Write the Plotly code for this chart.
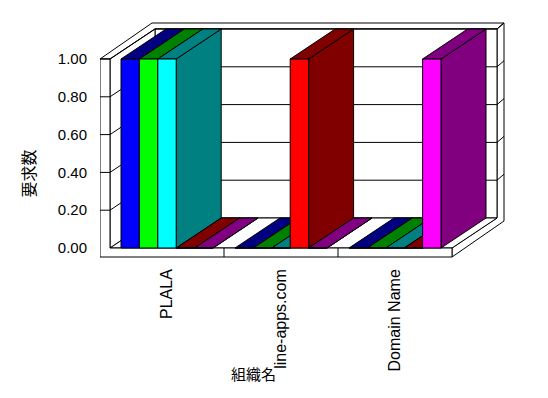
import plotly.graph_objects as go

# ---------------- data ----------------
categories = ["PLALA", "line-apps.com", "Domain Name"]
series_1 = [1.0, 0.0, 0.0]
series_2 = [1.0, 0.0, 0.0]
series_3 = [1.0, 0.0, 0.0]
series_4 = [0.0, 1.0, 0.0]
series_5 = [0.0, 0.0, 1.0]
y_ticks = [0.0, 0.2, 0.4, 0.6, 0.8, 1.0]
y_tick_labels = ["0.00", "0.20", "0.40", "0.60", "0.80", "1.00"]
x_title = "組織名"
y_title = "要求数"

all_series = [series_1, series_2, series_3, series_4, series_5]

# ---------------- styles ----------------
front_colors = ["#0000FF", "#00FF00", "#00FFFF", "#FF0000", "#FF00FF"]
dark_colors = ["#000080", "#008000", "#008080", "#800000", "#800080"]

OFF = 8                                  # page body margin
W, H = 548 - OFF, 398 - OFF
PL, PR, PT, PB = 100 - OFF, 505 - OFF, 22 - OFF, 258 - OFF   # plot area (px)
FX0, FY0 = 110 - OFF, 248 - OFF          # pixel of (first slot left edge, value 0)
PX_PER_X = 114.0                         # pixels per category slot
PX_PER_Y = 189.0                         # pixels per value unit

x_range = [-0.5 - (FX0 - PL) / PX_PER_X, -0.5 + (PR - FX0) / PX_PER_X]
y_range = [-(PB - FY0) / PX_PER_Y, (FY0 - PT) / PX_PER_Y]

DX, DY = 45 / PX_PER_X, 30 / PX_PER_Y    # depth offset
TX, TY = 7 / PX_PER_X, 6 / PX_PER_Y      # back-wall thickness
LW = 10 / PX_PER_X                       # left-wall thickness
FT = 9 / PX_PER_Y                        # floor thickness
GROUP = 92 / PX_PER_X                    # width of a bar group within a slot

X0 = -0.5
X1 = len(categories) - 0.5
XL = X0 - LW
VMAX = max(y_ticks)

fig = go.Figure()


def P(u, v, w=0.0, t=0.0):
    return (u + w * DX + t * TX, v + w * DY + t * TY)


def poly(pts, fill):
    xs = [p[0] for p in pts] + [pts[0][0]]
    ys = [p[1] for p in pts] + [pts[0][1]]
    fig.add_trace(go.Scatter(x=xs, y=ys, mode="lines", fill="toself",
                             fillcolor=fill, line=dict(color="black", width=1),
                             hoverinfo="skip", showlegend=False))


def polyline(pts):
    fig.add_trace(go.Scatter(x=[p[0] for p in pts], y=[p[1] for p in pts],
                             mode="lines", line=dict(color="black", width=1),
                             hoverinfo="skip", showlegend=False))


# ---- box frame ----
poly([P(XL, VMAX, 0), P(X0, VMAX, 0), P(X0, VMAX, 1), P(X1, VMAX, 1),
      P(X1, VMAX, 1, 1), P(XL, VMAX, 1, 1)], "white")
poly([P(X1, -FT, 0), P(X1, 0, 0), P(X1, 0, 1), P(X1, VMAX, 1),
      P(X1, VMAX, 1, 1), P(X1, -FT, 1, 1)], "white")
poly([P(X0, 0, 1), P(X1, 0, 1), P(X1, VMAX, 1), P(X0, VMAX, 1)], "white")
poly([P(X0, 0, 0), P(X0, 0, 1), P(X0, VMAX, 1), P(X0, VMAX, 0)], "white")
poly([P(X0, 0, 0), P(X1, 0, 0), P(X1, 0, 1), P(X0, 0, 1)], "white")
poly([P(XL, -FT), P(X1, -FT), P(X1, 0), P(X0, 0), P(X0, VMAX), P(XL, VMAX)], "white")

for k in y_ticks:
    if k <= 0:
        continue
    polyline([P(XL, k, 0), P(X0, k, 0), P(X0, k, 1), P(X1, k, 1), P(X1, k, 1, 1)])

for i in range(1, len(categories)):
    polyline([P(i - 0.5, -FT), P(i - 0.5, 0)])

# ---- bars ----
n = len(all_series)
bw = GROUP / n
for ci in range(len(categories)):
    start = ci - GROUP / 2
    for si, s in enumerate(all_series):
        h = s[ci]
        ul = start + si * bw
        ur = ul + bw
        poly([P(ur, 0, 0), P(ur, 0, 1), P(ur, h, 1), P(ur, h, 0)], dark_colors[si])
        poly([P(ul, h, 0), P(ur, h, 0), P(ur, h, 1), P(ul, h, 1)], dark_colors[si])
        poly([P(ul, 0), P(ur, 0), P(ur, h), P(ul, h)], front_colors[si])

font_family = "Liberation Sans, Arial, sans-serif"
cjk_family = "Noto Sans CJK JP, sans-serif"

fig.update_layout(
    width=W, height=H,
    margin=dict(l=PL, r=W - PR, t=PT, b=H - PB, pad=0),
    paper_bgcolor="white", plot_bgcolor="white",
    showlegend=False,
    xaxis=dict(range=x_range, showgrid=False, zeroline=False, showline=False,
               tickmode="array", tickvals=list(range(len(categories))),
               ticktext=categories, tickangle=-90, ticks="",
               ticklabelstandoff=7,
               tickfont=dict(family=font_family, size=16, color="black"),
               fixedrange=True),
    yaxis=dict(range=y_range, showgrid=False, zeroline=False, showline=False,
               tickmode="array", tickvals=y_ticks, ticktext=y_tick_labels,
               ticks="outside", ticklen=9, tickcolor="rgba(0,0,0,0)",
               tickfont=dict(family=font_family, size=15, color="black"),
               fixedrange=True),
    annotations=[
        dict(text=y_title, xref="paper", yref="paper",
             x=(27.5 - OFF - PL) / (PR - PL), y=(PB - (174 - OFF)) / (PB - PT),
             xanchor="center", yanchor="middle", textangle=-90, showarrow=False,
             font=dict(family=cjk_family, size=16, color="black")),
        dict(text=x_title, xref="paper", yref="paper",
             x=(253 - OFF - PL) / (PR - PL), y=(PB - (373 - OFF)) / (PB - PT),
             xanchor="center", yanchor="middle", showarrow=False,
             font=dict(family=cjk_family, size=15, color="black")),
    ],
)

fig.write_html("out.html")
